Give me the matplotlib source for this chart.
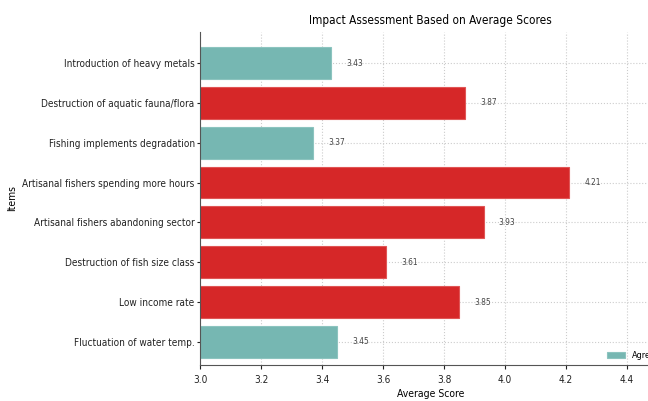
import matplotlib
matplotlib.use("Agg")
import matplotlib.pyplot as plt

plt.rcParams["font.family"] = ["DejaVu Sans"]
plt.rcParams["font.stretch"] = "condensed"

items = [
    "Fluctuation of water temp.",
    "Low income rate",
    "Destruction of fish size class",
    "Artisanal fishers abandoning sector",
    "Artisanal fishers spending more hours",
    "Fishing implements degradation",
    "Destruction of aquatic fauna/flora",
    "Introduction of heavy metals",
]
scores = [3.45, 3.85, 3.61, 3.93, 4.21, 3.37, 3.87, 3.43]
threshold = 3.5
agree_color = "#76b7b2"
disagree_color = "#d62728"
colors = [agree_color if s < threshold else disagree_color for s in scores]
edges = ["#8cc4bf" if s < threshold else "#e05555" for s in scores]

fig = plt.figure(figsize=(6.48, 4.01), dpi=100)
ax = fig.add_axes([0.309, 0.09, 0.71, 0.83])

pos = list(range(len(items)))
bars = ax.barh(pos, scores, height=0.8, color=colors, edgecolor=edges,
               linewidth=0.8, label="Agree", zorder=2)
for p, s in zip(pos, scores):
    ax.text(s + 0.05, p, f"{s:.2f}", va="center", ha="left",
            fontsize=6, color="#444444")

ax.set_yticks(pos)
ax.set_yticklabels(items, fontsize=7.2, color="#222222")
ax.set_xlim(3.0, 4.51)
ax.set_ylim(-0.58, 7.78)
ax.set_xticks([3.0, 3.2, 3.4, 3.6, 3.8, 4.0, 4.2, 4.4])
ax.tick_params(axis="x", labelsize=7.2, colors="#222222", length=3, pad=4)
ax.tick_params(axis="y", length=2, colors="#222222", pad=2)
ax.grid(True, linestyle=":", color="#cccccc", linewidth=0.8, zorder=0)
ax.set_axisbelow(True)
for side in ("top", "right"):
    ax.spines[side].set_visible(False)
for side in ("left", "bottom"):
    ax.spines[side].set_color("#555555")

ax.set_xlabel("Average Score", fontsize=7.5, labelpad=3)
ax.set_ylabel("Items", fontsize=7.5, labelpad=4)
ax.set_title("Impact Assessment Based on Average Scores", fontsize=8.5, pad=6)
ax.legend(handles=[bars], labels=["Agree"], loc="lower right", fontsize=6.5,
          frameon=False, borderaxespad=0.1)

fig.savefig("out.png", dpi=100)
